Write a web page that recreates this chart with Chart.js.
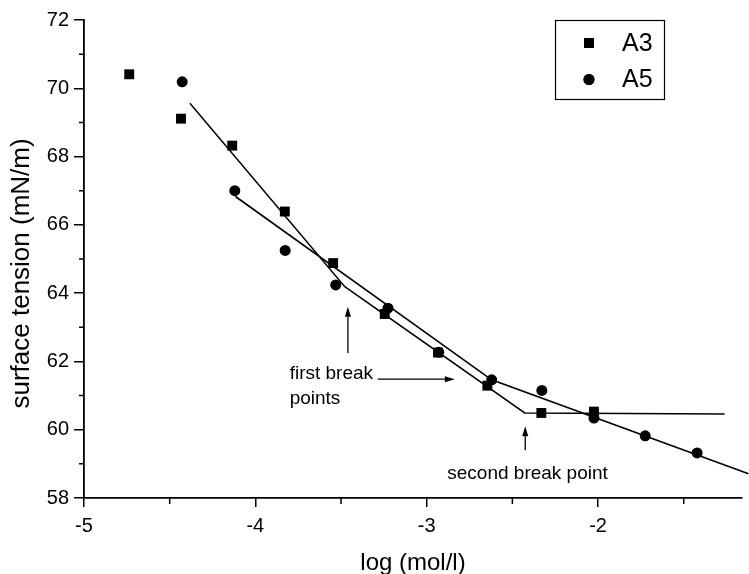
<!DOCTYPE html>
<html>
<head>
<meta charset="utf-8">
<script src="https://cdn.jsdelivr.net/npm/chart.js@4/dist/chart.umd.min.js"></script>
<style>
  html, body { margin: 0; padding: 0; background: #fff; }
  #chart { display: block; }
</style>
</head>
<body>
<canvas id="chart" width="749" height="574"></canvas>
<script>
// measured points, log(mol/l) vs surface tension (mN/m)
const a3X = [-4.736, -4.434, -4.135, -3.828, -3.546, -3.245, -2.934, -2.646, -2.331, -2.024]
const a3Y = [70.41, 69.11, 68.32, 66.39, 64.88, 63.39, 62.26, 61.29, 60.49, 60.53]
const a5X = [-4.427, -4.12, -3.826, -3.531, -3.226, -2.93, -2.621, -2.328, -2.024, -1.725, -1.422]
const a5Y = [70.19, 67.0, 65.25, 64.24, 63.56, 62.27, 61.46, 61.15, 60.34, 59.82, 59.32]

// fitted segments
const a3FitX = [-4.382, -3.478, -2.428, -1.262]
const a3FitY = [69.56, 64.19, 60.49, 60.46]
const a5FitX = [-4.116, -2.621, -1.122]
const a5FitY = [66.83, 61.46, 58.71]

const xTicks = [-5, -4, -3, -2]
const yTicks = [58, 60, 62, 64, 66, 68, 70, 72]
const xMinor = [-4.5, -3.5, -2.5, -1.5]
const yMinor = [59, 61, 63, 65, 67, 69, 71]

const FONT = "'Liberation Sans', Arial, Helvetica, sans-serif"

const toPoints = (xs, ys) => xs.map((x, i) => ({ x: x, y: ys[i] }))

// text and arrows drawn on the plot, in data units
const notes = [
	{ text: "first break", x: -3.80, y: 61.65, align: "left" },
	{ text: "points", x: -3.80, y: 60.9, align: "left" },
	{ text: "second break point", x: -2.88, y: 58.7, align: "left" },
]
const arrows = [
	{ x1: -3.46, y1: 62.25, x2: -3.46, y2: 63.6 },
	{ x1: -3.286, y1: 61.48, x2: -2.836, y2: 61.48 },
	{ x1: -2.425, y1: 59.4, x2: -2.425, y2: 60.1 },
]

const minorTicks = {
	id: "minorTicks",
	afterDraw(chart) {
		const { ctx, scales, chartArea } = chart
		ctx.save()
		ctx.strokeStyle = "#000"
		ctx.lineWidth = 1.5
		ctx.beginPath()
		yMinor.forEach((v) => {
			const py = scales.y.getPixelForValue(v)
			ctx.moveTo(chartArea.left, py)
			ctx.lineTo(chartArea.left - 5, py)
		})
		xMinor.forEach((v) => {
			const px = scales.x.getPixelForValue(v)
			ctx.moveTo(px, chartArea.bottom)
			ctx.lineTo(px, chartArea.bottom + 6)
		})
		ctx.stroke()
		ctx.restore()
	},
}

const annotations = {
	id: "annotations",
	afterDraw(chart) {
		const { ctx, scales } = chart
		ctx.save()
		ctx.fillStyle = "#000"
		ctx.strokeStyle = "#000"
		ctx.font = "19px " + FONT
		ctx.textBaseline = "middle"
		notes.forEach((n) => {
			ctx.textAlign = n.align
			ctx.fillText(n.text, scales.x.getPixelForValue(n.x), scales.y.getPixelForValue(n.y))
		})
		arrows.forEach((a) => {
			const x1 = scales.x.getPixelForValue(a.x1)
			const y1 = scales.y.getPixelForValue(a.y1)
			const x2 = scales.x.getPixelForValue(a.x2)
			const y2 = scales.y.getPixelForValue(a.y2)
			const ang = Math.atan2(y2 - y1, x2 - x1)
			const len = 10
			const half = 3
			ctx.lineWidth = 1.3
			ctx.beginPath()
			ctx.moveTo(x1, y1)
			ctx.lineTo(x2 - len * Math.cos(ang), y2 - len * Math.sin(ang))
			ctx.stroke()
			ctx.beginPath()
			ctx.moveTo(x2, y2)
			ctx.lineTo(x2 - len * Math.cos(ang) + half * Math.sin(ang), y2 - len * Math.sin(ang) - half * Math.cos(ang))
			ctx.lineTo(x2 - len * Math.cos(ang) - half * Math.sin(ang), y2 - len * Math.sin(ang) + half * Math.cos(ang))
			ctx.closePath()
			ctx.fill()
		})
		ctx.restore()
	},
}

const boxLegend = {
	id: "boxLegend",
	afterDraw(chart) {
		const { ctx, chartArea } = chart
		const left = chartArea.right - 187
		const top = chartArea.top
		const w = 109
		const h = 79
		ctx.save()
		ctx.strokeStyle = "#000"
		ctx.lineWidth = 1.2
		ctx.strokeRect(left + 0.5, top + 0.5, w, h)
		ctx.fillStyle = "#000"
		ctx.font = "25px " + FONT
		ctx.textBaseline = "middle"
		ctx.textAlign = "left"
		const shown = chart.data.datasets.filter((d) => d.inLegend)
		shown.forEach((d, i) => {
			const cy = top + 23 + i * 36.5
			Chart.helpers.drawPoint(ctx, { pointStyle: d.pointStyle, radius: d.pointRadius, rotation: 0, borderWidth: 0 }, left + 34, cy)
			ctx.fill()
			ctx.fillStyle = "#000"
			ctx.fillText(d.label, left + 67, cy + 1)
		})
		ctx.restore()
	},
}

new Chart(document.getElementById("chart").getContext("2d"), {
	type: "scatter",
	data: {
		datasets: [
			{
				label: "A3",
				inLegend: true,
				data: toPoints(a3X, a3Y),
				pointStyle: "rect",
				pointRadius: 7,
				backgroundColor: "#000",
				borderColor: "#000",
				borderWidth: 0,
				showLine: false,
			},
			{
				label: "A5",
				inLegend: true,
				data: toPoints(a5X, a5Y),
				pointStyle: "circle",
				pointRadius: 5.5,
				backgroundColor: "#000",
				borderColor: "#000",
				borderWidth: 0,
				showLine: false,
			},
			{
				label: "A3 fit",
				data: toPoints(a3FitX, a3FitY),
				showLine: true,
				pointRadius: 0,
				borderColor: "#000",
				borderWidth: 1.5,
				tension: 0,
			},
			{
				label: "A5 fit",
				data: toPoints(a5FitX, a5FitY),
				showLine: true,
				pointRadius: 0,
				borderColor: "#000",
				borderWidth: 1.7,
				tension: 0,
				clip: false,
			},
		],
	},
	options: {
		responsive: false,
		animation: false,
		devicePixelRatio: 1,
		layout: { padding: { top: 20, right: 6, left: 0, bottom: 0 } },
		plugins: {
			legend: { display: false },
			tooltip: { enabled: false },
		},
		scales: {
			x: {
				type: "linear",
				min: -5,
				max: -1.16,
				afterFit: (scale) => {
					scale.height = 76
				},
				afterBuildTicks: (scale) => {
					scale.ticks = xTicks.map((v) => ({ value: v }))
				},
				border: { display: true, color: "#000", width: 1.8 },
				grid: { drawOnChartArea: false, drawTicks: true, tickLength: 9, color: "#000", lineWidth: 1.5 },
				ticks: {
					includeBounds: false,
					color: "#000",
					padding: 7,
					font: { family: FONT, size: 20 },
					maxRotation: 0,
				},
				title: {
					display: true,
					text: "log (mol/l)",
					color: "#000",
					font: { family: FONT, size: 24, lineHeight: 0.9 },
					padding: { top: 0, bottom: 0 },
				},
			},
			y: {
				type: "linear",
				min: 58,
				max: 72,
				afterFit: (scale) => {
					scale.width = 84
				},
				afterBuildTicks: (scale) => {
					scale.ticks = yTicks.map((v) => ({ value: v }))
				},
				border: { display: true, color: "#000", width: 1.8 },
				grid: { drawOnChartArea: false, drawTicks: true, tickLength: 10, color: "#000", lineWidth: 1.5 },
				ticks: {
					color: "#000",
					padding: 5,
					font: { family: FONT, size: 20 },
				},
				title: {
					display: true,
					text: "surface tension (mN/m)    ",
					color: "#000",
					font: { family: FONT, size: 26 },
					padding: { top: 6, bottom: 0 },
				},
			},
		},
	},
	plugins: [minorTicks, annotations, boxLegend],
})
</script>
</body>
</html>
